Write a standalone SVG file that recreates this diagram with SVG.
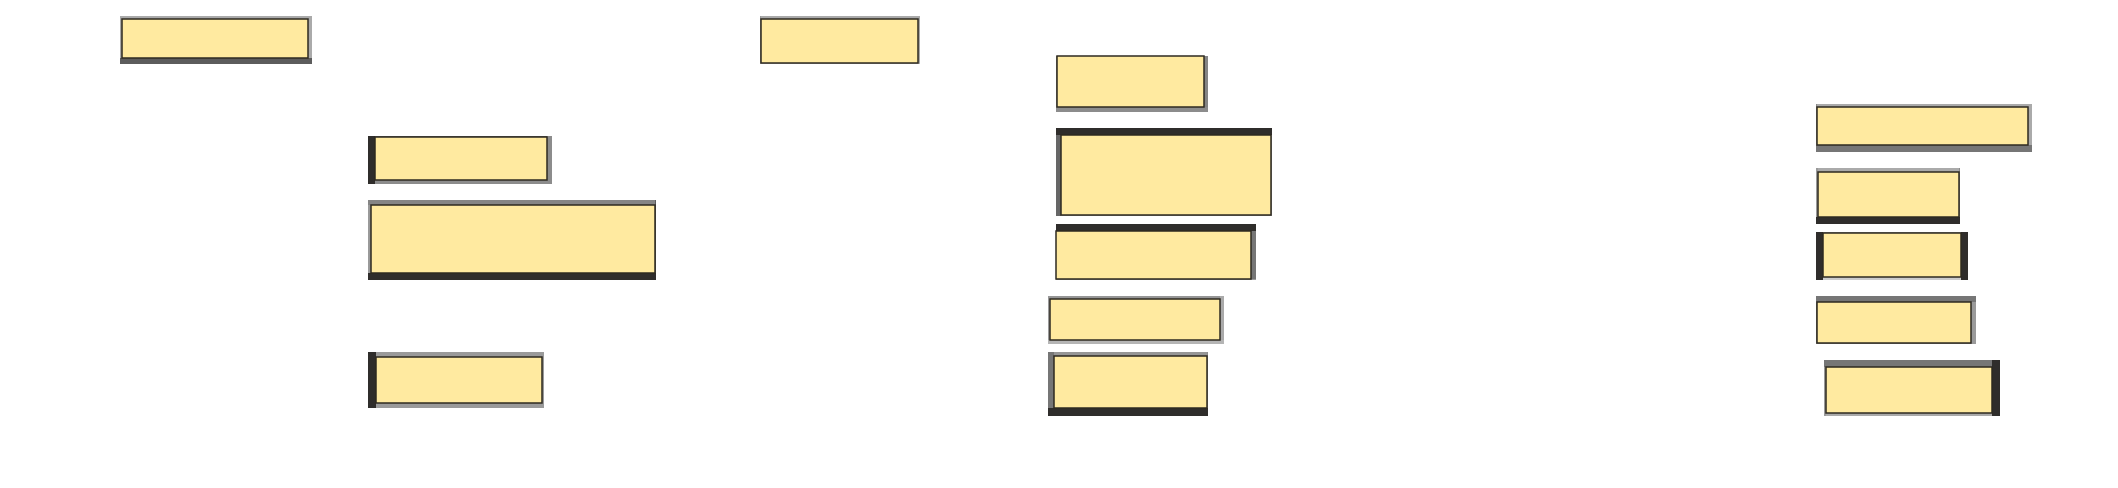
<svg xmlns="http://www.w3.org/2000/svg" width="2118" height="488" viewBox="0 0 2118 488">
<style>
.bg{fill:#ffffff}
.box{fill:#ffeaa0;stroke:#2e2a20;stroke-width:1.5}
.dk{fill:#2f2d2b}
.g55{fill:#5c5c5c}
.g60{fill:#666666}
.g70{fill:#767676}
.g80{fill:#858585}
.g88{fill:#8c8c8c}
.g95{fill:#969696}
.g9a{fill:#9a9a9a}
.gaa{fill:#aaaaaa}
.gb5{fill:#b5b5b5}
.gcc{fill:#cccccc}
</style>
<rect class="bg" x="0" y="0" width="2118" height="488"/>
<g id="connectors"></g>
<g id="nodeA">
<rect class="gaa" x="120" y="16" width="192" height="3"/>
<rect class="gaa" x="120" y="16" width="2" height="48"/>
<rect class="gaa" x="308" y="16" width="4" height="48"/>
<rect class="g55" x="120" y="58" width="192" height="6"/>
<rect class="box" x="122" y="19" width="186" height="39"/>
</g>
<g id="nodeB">
<rect class="g60" x="368" y="136" width="184" height="1"/>
<rect class="g88" x="547" y="136" width="5" height="48"/>
<rect class="g88" x="368" y="180" width="184" height="4"/>
<rect class="dk" x="368" y="136" width="7" height="48"/>
<rect class="box" x="375" y="137" width="172" height="43"/>
</g>
<g id="nodeC">
<rect class="g9a" x="368" y="200" width="3" height="80"/>
<rect class="g80" x="368" y="200" width="288" height="5"/>
<rect class="g55" x="655" y="200" width="1" height="80"/>
<rect class="dk" x="368" y="273" width="288" height="7"/>
<rect class="box" x="371" y="205" width="284" height="68"/>
</g>
<g id="nodeD">
<rect class="g9a" x="368" y="352" width="176" height="5"/>
<rect class="g9a" x="542" y="352" width="2" height="56"/>
<rect class="g9a" x="368" y="403" width="176" height="5"/>
<rect class="dk" x="368" y="352" width="8" height="56"/>
<rect class="box" x="376" y="357" width="166" height="46"/>
</g>
<g id="nodeE">
<rect class="gaa" x="760" y="16" width="160" height="3"/>
<rect class="g9a" x="760" y="16" width="1" height="48"/>
<rect class="gaa" x="918" y="16" width="2" height="48"/>
<rect class="gb5" x="760" y="63" width="160" height="1"/>
<rect class="box" x="761" y="19" width="157" height="44"/>
</g>
<g id="nodeF">
<rect class="g88" x="1056" y="56" width="1" height="56"/>
<rect class="g80" x="1204" y="56" width="4" height="56"/>
<rect class="g88" x="1056" y="107" width="152" height="5"/>
<rect class="box" x="1057" y="56" width="147" height="51"/>
</g>
<g id="nodeG">
<rect class="g9a" x="1271" y="128" width="1" height="88"/>
<rect class="g9a" x="1056" y="215" width="216" height="1"/>
<rect class="g60" x="1056" y="128" width="5" height="88"/>
<rect class="dk" x="1056" y="128" width="216" height="7"/>
<rect class="box" x="1061" y="135" width="210" height="80"/>
</g>
<g id="nodeH">
<rect class="g70" x="1251" y="224" width="5" height="56"/>
<rect class="g9a" x="1056" y="279" width="200" height="1"/>
<rect class="dk" x="1056" y="224" width="200" height="7"/>
<rect class="box" x="1056" y="231" width="195" height="48"/>
</g>
<g id="nodeI">
<rect class="g95" x="1048" y="296" width="176" height="3"/>
<rect class="g9a" x="1048" y="296" width="2" height="48"/>
<rect class="gaa" x="1220" y="296" width="4" height="48"/>
<rect class="gb5" x="1048" y="340" width="176" height="4"/>
<rect class="box" x="1050" y="299" width="170" height="41"/>
</g>
<g id="nodeJ">
<rect class="g95" x="1048" y="352" width="160" height="4"/>
<rect class="g88" x="1207" y="352" width="1" height="64"/>
<rect class="g70" x="1048" y="352" width="6" height="64"/>
<rect class="dk" x="1048" y="408" width="160" height="8"/>
<rect class="box" x="1054" y="356" width="153" height="52"/>
</g>
<g id="nodeK">
<rect class="gaa" x="1816" y="104" width="216" height="3"/>
<rect class="g88" x="1816" y="104" width="1" height="48"/>
<rect class="gaa" x="2028" y="104" width="4" height="48"/>
<rect class="g70" x="1816" y="145" width="216" height="7"/>
<rect class="box" x="1817" y="107" width="211" height="38"/>
</g>
<g id="nodeL">
<rect class="gaa" x="1816" y="168" width="144" height="4"/>
<rect class="g9a" x="1816" y="168" width="2" height="56"/>
<rect class="g88" x="1959" y="168" width="1" height="56"/>
<rect class="dk" x="1816" y="217" width="144" height="7"/>
<rect class="box" x="1818" y="172" width="141" height="45"/>
</g>
<g id="nodeM">
<rect class="g9a" x="1816" y="232" width="152" height="1"/>
<rect class="gcc" x="1816" y="277" width="152" height="3"/>
<rect class="dk" x="1816" y="232" width="7" height="48"/>
<rect class="dk" x="1961" y="232" width="7" height="48"/>
<rect class="box" x="1823" y="233" width="138" height="44"/>
</g>
<g id="nodeN">
<rect class="g70" x="1816" y="296" width="1" height="48"/>
<rect class="g88" x="1816" y="343" width="160" height="1"/>
<rect class="g9a" x="1971" y="296" width="5" height="48"/>
<rect class="g70" x="1816" y="296" width="160" height="6"/>
<rect class="box" x="1817" y="302" width="154" height="41"/>
</g>
<g id="nodeO">
<rect class="gaa" x="1824" y="413" width="176" height="3"/>
<rect class="g9a" x="1824" y="360" width="2" height="56"/>
<rect class="g70" x="1824" y="360" width="176" height="7"/>
<rect class="dk" x="1992" y="360" width="8" height="56"/>
<rect class="box" x="1826" y="367" width="166" height="46"/>
</g>
</svg>
